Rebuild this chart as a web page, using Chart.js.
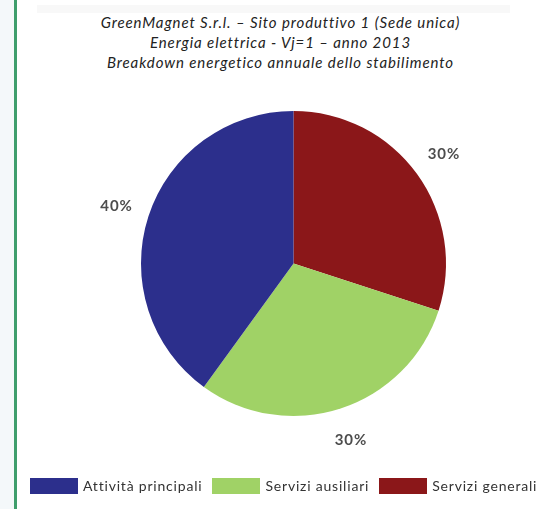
<!DOCTYPE html>
<html lang="it">
<head>
<meta charset="utf-8">
<title>Breakdown energetico annuale</title>
<script src="https://cdn.jsdelivr.net/npm/chart.js@4/dist/chart.umd.min.js"></script>
<style>
  html, body { margin: 0; padding: 0; background: #ffffff; }
  body { width: 544px; height: 509px; position: relative; overflow: hidden; font-family: Lato, "Open Sans", sans-serif; }
  #strip { position: absolute; left: 0; top: 0; width: 14px; height: 509px; background: #f4f8fa; }
  #rule { position: absolute; left: 14px; top: 0; width: 3px; height: 509px; background: #3f9e6c; }
  #band { position: absolute; left: 37px; top: 5px; width: 473px; height: 8px; background: #f8f8f8; }
  #title { position: absolute; left: 17px; width: 527px; top: 12px; text-align: center;
           font-style: italic; font-size: 15px; letter-spacing: 0.9px; line-height: 20px; color: #222; }
  #chartBox { position: absolute; left: 0; top: 0; width: 544px; height: 509px; }
  #legend { position: absolute; left: 30px; top: 477px; display: flex; align-items: center; white-space: nowrap;
            font-size: 14px; letter-spacing: 0.8px; color: #333; }
  .item { display: flex; align-items: center; margin-right: 10px; }
  .swatch { width: 48px; height: 16px; margin-right: 5px; }
</style>
</head>
<body>
<div id="strip"></div>
<div id="rule"></div>
<div id="band"></div>
<div id="title"></div>
<div id="chartBox"><canvas id="pie" width="544" height="509"></canvas></div>
<div id="legend"></div>
<script>
// Chart content
const titleLines = [
  'GreenMagnet S.r.l. \u2013 Sito produttivo 1 (Sede unica)',
  'Energia elettrica - Vj=1 \u2013 anno 2013',
  'Breakdown energetico annuale dello stabilimento'
];
// legend order
const categories = ['Attivit\u00e0 principali', 'Servizi ausiliari', 'Servizi generali'];
const shares = [40, 30, 30];
const colors = ['#2c2f8c', '#a0d266', '#8b1719'];

// The pie runs clockwise from 12 o'clock as: Servizi generali, Servizi ausiliari, Attivit\u00e0 principali
const drawOrder = [2, 1, 0];

document.getElementById('title').innerHTML = titleLines.map(t => '<div>' + t + '</div>').join('');

const legendEl = document.getElementById('legend');
categories.forEach((name, i) => {
  const item = document.createElement('div');
  item.className = 'item';
  const sw = document.createElement('div');
  sw.className = 'swatch';
  sw.style.background = colors[i];
  const tx = document.createElement('span');
  tx.textContent = name;
  item.appendChild(sw);
  item.appendChild(tx);
  legendEl.appendChild(item);
});

// percentage labels placed just outside each slice
const outsideLabels = {
  id: 'outsideLabels',
  afterDatasetsDraw(chart) {
    const ctx = chart.ctx;
    const meta = chart.getDatasetMeta(0);
    const data = chart.data.datasets[0].data;
    const total = data.reduce((a, b) => a + b, 0);
    ctx.save();
    ctx.font = 'bold 15px Lato, "Open Sans", sans-serif';
    if ('letterSpacing' in ctx) ctx.letterSpacing = '1px';
    ctx.fillStyle = '#4d4d4d';
    ctx.textAlign = 'center';
    ctx.textBaseline = 'middle';
    meta.data.forEach((arc, i) => {
      const p = arc.getProps(['x', 'y', 'startAngle', 'endAngle', 'outerRadius'], true);
      const mid = (p.startAngle + p.endAngle) / 2;
      const d = p.outerRadius * 1.22;
      const pct = Math.round(data[i] / total * 100) + '%';
      ctx.fillText(pct, p.x + Math.cos(mid) * d, p.y + Math.sin(mid) * d);
    });
    ctx.restore();
  }
};

new Chart(document.getElementById('pie'), {
  type: 'pie',
  data: {
    labels: drawOrder.map(i => categories[i]),
    datasets: [{
      data: drawOrder.map(i => shares[i]),
      backgroundColor: drawOrder.map(i => colors[i]),
      borderWidth: 0
    }]
  },
  options: {
    responsive: false,
    animation: false,
    layout: { padding: { left: 140, right: 97, top: 111, bottom: 93 } },
    plugins: {
      legend: { display: false },
      title: { display: false },
      tooltip: { enabled: false }
    }
  },
  plugins: [outsideLabels]
});
</script>
</body>
</html>
